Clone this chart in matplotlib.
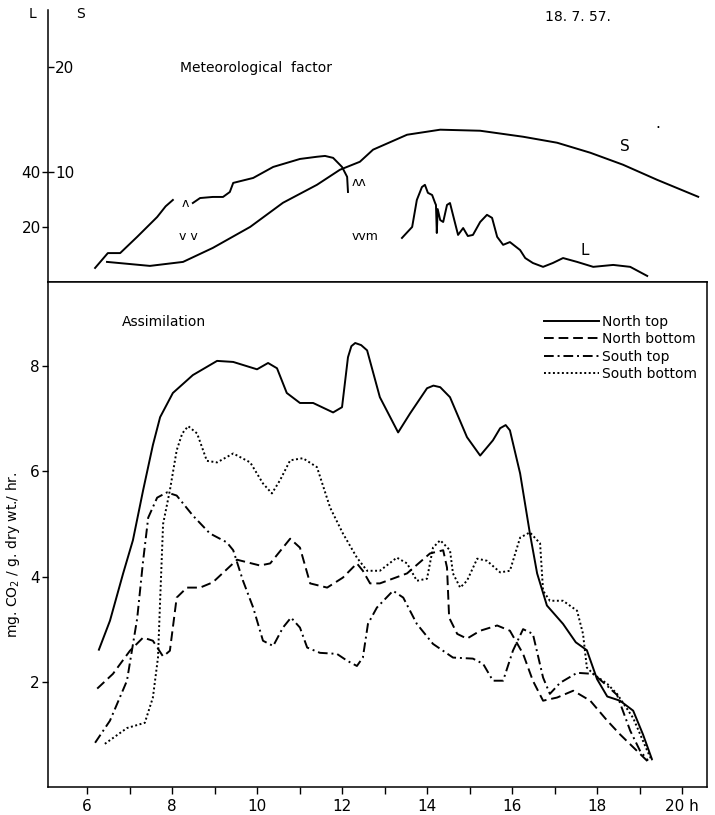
import numpy as np
import matplotlib
matplotlib.use("Agg")
import matplotlib.pyplot as plt

# --- meteorological factor (top panel) ---
sun_t = [6.47, 7.48, 8.26, 8.96, 9.84, 10.61, 11.41, 11.95, 12.42, 12.73,
         13.53, 14.31, 15.25, 16.26, 17.06, 17.84, 18.61, 19.41, 20.38]
sun = [1.43, 1.05, 1.43, 2.76, 4.76, 7.05, 8.76, 10.19, 10.95, 12.1,
       13.52, 14.0, 13.9, 13.33, 12.76, 11.81, 10.67, 9.24, 7.62]

light_a_t = [6.19, 6.49, 6.78, 7.18, 7.65, 7.85, 8.02]
light_a = [5.1, 10.5, 10.5, 16.4, 23.6, 27.5, 29.8]
light_b_t = [8.49, 8.66, 8.96, 9.2, 9.36, 9.44, 9.91, 10.38, 11.01, 11.41,
             11.6, 11.79, 12.0, 12.12, 12.14]
light_b = [28.7, 30.5, 30.9, 30.9, 32.7, 36.0, 37.8, 41.8, 44.7, 45.5,
           45.8, 45.1, 41.8, 38.2, 32.7]
light_c_t = [13.41, 13.65, 13.76, 13.88, 13.95, 14.02, 14.12, 14.19, 14.21,
             14.23, 14.25, 14.31, 14.38, 14.47, 14.54, 14.61, 14.73, 14.85,
             14.96, 15.08, 15.25, 15.41, 15.53, 15.65, 15.79, 15.95, 16.19,
             16.31, 16.49, 16.73, 16.96, 17.2, 17.53, 17.91, 18.38, 18.78, 19.18]
light_c = [16.0, 20.0, 29.8, 34.5, 35.3, 32.4, 31.6, 28.7, 28.0,
           17.8, 26.5, 22.5, 21.8, 28.0, 28.7, 24.4, 17.1, 19.6,
           16.7, 17.1, 21.8, 24.4, 23.3, 16.4, 13.5, 14.5, 11.6,
           8.7, 6.9, 5.5, 6.9, 8.7, 7.3, 5.5, 6.2, 5.5, 2.2]

# --- assimilation (bottom panel), mg CO2 / g dry wt / hr ---
north_top_t = [6.28, 6.54, 6.85, 7.08, 7.32, 7.55, 7.72, 8.02, 8.49, 9.06,
               9.44, 10.0, 10.26, 10.47, 10.7, 11.01, 11.32, 11.79, 12.0, 12.14,
               12.22, 12.31, 12.45, 12.59, 12.89, 13.32, 13.6, 14.0, 14.15, 14.31,
               14.54, 14.94, 15.25, 15.55, 15.72, 15.85, 15.95, 16.19, 16.42, 16.59,
               16.82, 17.2, 17.5, 17.76, 18.0, 18.24, 18.54, 18.85, 19.08, 19.29]
north_top = [2.61, 3.16, 4.06, 4.69, 5.64, 6.5, 7.03, 7.49, 7.83, 8.1,
             8.08, 7.94, 8.06, 7.96, 7.49, 7.3, 7.3, 7.12, 7.22, 8.17,
             8.38, 8.44, 8.4, 8.3, 7.41, 6.74, 7.1, 7.58, 7.63, 7.6,
             7.41, 6.65, 6.3, 6.59, 6.82, 6.88, 6.78, 5.96, 4.82, 4.06,
             3.45, 3.1, 2.75, 2.6, 2.05, 1.72, 1.64, 1.45, 1.0, 0.53]

north_bottom_t = [6.24, 6.61, 7.01, 7.32, 7.55, 7.79, 7.95, 8.11, 8.35, 8.66,
                  8.96, 9.53, 10.07, 10.31, 10.78, 11.01, 11.25, 11.65, 12.02, 12.35,
                  12.49, 12.66, 12.89, 13.53, 14.07, 14.38, 14.47, 14.52, 14.71, 14.94,
                  15.25, 15.65, 15.95, 16.26, 16.49, 16.73, 17.06, 17.44, 17.84, 18.24,
                  18.54, 19.01, 19.25]
north_bottom = [1.87, 2.15, 2.59, 2.84, 2.78, 2.48, 2.59, 3.6, 3.79, 3.79,
                3.89, 4.32, 4.21, 4.25, 4.72, 4.55, 3.87, 3.79, 3.98, 4.25,
                4.11, 3.87, 3.87, 4.06, 4.44, 4.5, 4.17, 3.22, 2.91, 2.82,
                2.97, 3.07, 2.97, 2.53, 2.02, 1.64, 1.7, 1.83, 1.64, 1.26,
                1.0, 0.63, 0.44]

south_top_t = [6.19, 6.54, 6.94, 7.18, 7.32, 7.44, 7.65, 7.88, 8.11, 8.49,
               8.89, 9.29, 9.44, 9.67, 9.91, 10.14, 10.38, 10.61, 10.8, 11.01,
               11.18, 11.48, 11.88, 12.12, 12.35, 12.49, 12.61, 12.82, 13.2, 13.44,
               13.76, 14.14, 14.61, 15.08, 15.32, 15.55, 15.79, 16.02, 16.26, 16.49,
               16.73, 16.89, 17.13, 17.53, 17.91, 18.2, 18.47, 18.78, 19.01, 19.2]
south_top = [0.84, 1.26, 2.02, 3.2, 4.3, 5.12, 5.5, 5.6, 5.54, 5.16,
             4.82, 4.65, 4.5, 3.92, 3.41, 2.78, 2.68, 3.03, 3.22, 3.03,
             2.65, 2.55, 2.53, 2.4, 2.3, 2.46, 3.1, 3.41, 3.73, 3.6,
             3.1, 2.72, 2.46, 2.44, 2.34, 2.02, 2.02, 2.59, 3.0, 2.91,
             2.08, 1.77, 1.98, 2.17, 2.15, 1.95, 1.75, 1.07, 0.69, 0.5]

south_bottom_t = [6.42, 6.94, 7.36, 7.55, 7.67, 7.72, 7.79, 7.95, 8.11, 8.24,
                  8.38, 8.59, 8.82, 9.06, 9.44, 9.84, 10.14, 10.35, 10.54, 10.78,
                  11.08, 11.41, 11.72, 12.02, 12.35, 12.59, 12.89, 13.29, 13.53, 13.76,
                  14.0, 14.14, 14.31, 14.54, 14.61, 14.78, 14.94, 15.18, 15.41, 15.72,
                  15.95, 16.19, 16.42, 16.66, 16.73, 16.89, 17.2, 17.53, 17.67, 17.76,
                  17.91, 18.24, 18.47, 18.85, 19.18, 19.29]
south_bottom = [0.82, 1.12, 1.22, 1.7, 2.46, 3.54, 5.0, 5.64, 6.4, 6.72,
                6.86, 6.72, 6.2, 6.17, 6.34, 6.17, 5.77, 5.58, 5.83, 6.21,
                6.25, 6.08, 5.31, 4.82, 4.36, 4.11, 4.11, 4.36, 4.25, 3.92,
                3.96, 4.55, 4.69, 4.5, 4.06, 3.79, 3.92, 4.34, 4.3, 4.08,
                4.11, 4.74, 4.84, 4.63, 3.73, 3.54, 3.54, 3.35, 2.91, 2.27,
                2.15, 1.96, 1.77, 1.31, 0.69, 0.5]

hour_ticks = [6, 8, 10, 12, 14, 16, 18, 20]
hour_labels = ["6", "8", "10", "12", "14", "16", "18", "20 h"]

lw = 1.4
fig = plt.figure(figsize=(7.15, 8.15), dpi=100)

# top panel: light (L) and sun (S)
ax_top = fig.add_axes([0.067, 0.654, 0.922, 0.334])
ax_top.set_xlim(5.08, 20.59)
ax_top.set_ylim(0, 98.9)
for sp in ["top", "right"]:
    ax_top.spines[sp].set_visible(False)
ax_top.spines["left"].set_linewidth(1.1)
ax_top.spines["bottom"].set_linewidth(1.1)
ax_top.set_xticks([])
ax_top.set_yticks([20, 40])
ax_top.tick_params(axis="y", direction="out", length=4, width=1, labelsize=11, pad=1)
ax_top.plot(light_a_t, light_a, color="black", lw=lw)
ax_top.plot(light_b_t, light_b, color="black", lw=lw)
ax_top.plot(light_c_t, light_c, color="black", lw=lw)

ax_s = ax_top.twinx()
ax_s.set_ylim(-0.48, 25.4)
for sp in ax_s.spines.values():
    sp.set_visible(False)
ax_s.spines["right"].set_position(("axes", 0))
ax_s.set_yticks([10, 20])
ax_s.tick_params(axis="y", direction="out", length=4, width=1, labelsize=11, pad=1)
ax_s.plot(sun_t, sun, color="black", lw=lw)

ax_top.text(-0.023, 0.985, "L", transform=ax_top.transAxes, ha="center", va="center", fontsize=10)
ax_top.text(0.049, 0.985, "S", transform=ax_top.transAxes, ha="center", va="center", fontsize=10)
ax_top.text(0.2, 0.787, "Meteorological  factor", transform=ax_top.transAxes,
            ha="left", va="center", fontsize=10)
ax_top.text(0.754, 0.975, "18. 7. 57.", transform=ax_top.transAxes, ha="left", va="center", fontsize=10)
ax_s.text(18.66, 12.4, "S", ha="center", va="center", fontsize=11)
ax_top.text(17.72, 11.6, "L", ha="center", va="center", fontsize=11)
ax_s.text(19.44, 14.6, ".", ha="center", va="center", fontsize=11)
# small fluctuation marks drawn on the original trace
ax_top.text(8.31, 28.5, "ʌ", ha="center", va="center", fontsize=9)
ax_top.text(8.38, 16.4, "v v", ha="center", va="center", fontsize=9)
ax_top.text(12.4, 36.0, "ʌʌ", ha="center", va="center", fontsize=9)
ax_top.text(12.55, 16.7, "vvm", ha="center", va="center", fontsize=9)

# bottom panel: assimilation
ax = fig.add_axes([0.067, 0.0344, 0.922, 0.6196])
ax.set_xlim(5.08, 20.59)
ax.set_ylim(0, 9.6)
for sp in ax.spines.values():
    sp.set_linewidth(1.1)
ax.plot(north_top_t, north_top, color="black", lw=lw, ls="-", label="North top")
ax.plot(north_bottom_t, north_bottom, color="black", lw=lw, ls=(0, (5, 2.5)), label="North bottom")
ax.plot(south_top_t, south_top, color="black", lw=lw, ls=(0, (5, 2, 1, 2)), label="South top")
ax.plot(south_bottom_t, south_bottom, color="black", lw=lw, ls=(0, (1, 1.3)), label="South bottom")

ax.set_xticks(hour_ticks)
ax.set_xticklabels(hour_labels)
ax.set_xticks([7, 9, 11, 13, 15, 17, 19], minor=True)
ax.tick_params(axis="x", which="both", direction="out", length=5, width=1, labelsize=11)
ax.set_yticks([2, 4, 6, 8])
ax.tick_params(axis="y", direction="out", length=4, width=1, labelsize=11, pad=2)
ax.set_ylabel(r"mg. CO$_2$ / g. dry wt./ hr.", fontsize=10)
ax.yaxis.set_label_coords(-0.039, 0.46)

ax.text(0.112, 0.92, "Assimilation", transform=ax.transAxes, ha="left", va="center", fontsize=10)
ax.legend(loc="upper right", bbox_to_anchor=(0.985, 0.935), frameon=False, fontsize=10,
          handlelength=4, handletextpad=0.2, labelspacing=0.25, borderpad=0, borderaxespad=0)

fig.savefig("out.png", dpi=100)
